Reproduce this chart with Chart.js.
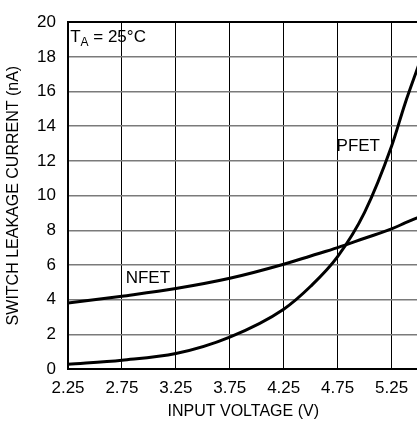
<!DOCTYPE html>
<html>
<head>
<meta charset="utf-8">
<script src="https://cdn.jsdelivr.net/npm/chart.js@4.4.1/dist/chart.umd.min.js"></script>
<style>
  html, body { margin: 0; padding: 0; background: #fff; overflow: hidden; }
  #wrap { width: 420px; height: 426px; position: relative; }
</style>
</head>
<body>
<div id="wrap"><canvas id="chart-leak"></canvas></div>
<script>
// ── data ──
const VOLTS     = [2.25, 2.75, 3.25, 3.75, 4.25, 4.5, 4.75, 5.0, 5.25, 5.375, 5.5];
const NFET_NA   = [3.8, 4.2, 4.64, 5.23, 6.04, 6.52, 7.0, 7.54, 8.08, 8.42, 8.75];
const PFET_NA   = [0.27, 0.51, 0.89, 1.84, 3.45, 4.77, 6.48, 9.03, 12.84, 15.3, 17.5];
const X_TICKS   = [2.25, 2.75, 3.25, 3.75, 4.25, 4.75, 5.25];
const Y_TICKS   = [0, 2, 4, 6, 8, 10, 12, 14, 16, 18, 20];

const FONT = '"Liberation Sans Narrow", "Liberation Sans", Arial, sans-serif';

const toPts = ys => VOLTS.map((v, i) => ({ x: v, y: ys[i] }));

// curve labels + T_A note
const notes = {
  id: 'notes',
  afterDatasetsDraw(chart) {
    const { ctx } = chart;
    const xs = chart.scales.x, ys = chart.scales.y;
    ctx.save();
    ctx.fillStyle = '#000';
    ctx.textBaseline = 'alphabetic';
    ctx.font = `17px ${FONT}`;
    ctx.fillText('NFET', xs.getPixelForValue(2.785), ys.getPixelForValue(4.95));
    ctx.fillText('PFET', xs.getPixelForValue(4.74), ys.getPixelForValue(12.6));
    // T_A = 25°C
    let x = xs.getPixelForValue(2.27), y = ys.getPixelForValue(18.85);
    ctx.fillText('T', x, y);
    x += ctx.measureText('T').width;
    ctx.font = `12px ${FONT}`;
    ctx.fillText('A', x, y + 4);
    x += ctx.measureText('A').width;
    ctx.font = `17px ${FONT}`;
    ctx.fillText(' = 25°C', x, y);
    ctx.restore();
  }
};

new Chart(document.getElementById('chart-leak'), {
  type: 'line',
  data: {
    datasets: [
      { label: 'NFET', data: toPts(NFET_NA) },
      { label: 'PFET', data: toPts(PFET_NA) },
    ].map(d => ({
      ...d,
      borderColor: '#000',
      borderWidth: 3,
      pointRadius: 0,
      cubicInterpolationMode: 'monotone',
      fill: false,
    }))
  },
  options: {
    responsive: true, maintainAspectRatio: false,
    animation: false,
    layout: { padding: { top: 17, right: 1.5, left: 4, bottom: 0 } },
    plugins: { legend: { display: false }, tooltip: { enabled: false } },
    scales: {
      x: {
        type: 'linear', min: 2.25, max: 5.5,
        afterBuildTicks: ax => { ax.ticks = X_TICKS.map(v => ({ value: v })); },
        afterFit: ax => { ax.height = 57; },
        grid: { color: '#000', lineWidth: 1, drawTicks: false },
        border: { color: '#000', width: 2 },
        ticks: {
          padding: 9, color: '#000',
          font: { family: FONT, size: 17 },
          callback: v => v.toFixed(2),
        },
        title: {
          display: true, text: 'INPUT VOLTAGE (V)', color: '#000',
          font: { family: FONT, size: 16 },
          padding: { top: 0, bottom: 5 },
        }
      },
      y: {
        min: 0, max: 20,
        afterBuildTicks: ax => { ax.ticks = Y_TICKS.map(v => ({ value: v })); },
        afterFit: ax => { ax.width = 64; },
        grid: {
          color: c => c.tick && c.tick.value === 20 ? '#000' : '#7a7a7a',
          lineWidth: c => c.tick && c.tick.value === 20 ? 2 : 1.5,
          drawTicks: false,
        },
        border: { color: '#000', width: 2 },
        ticks: {
          padding: 12, color: '#000',
          font: { family: FONT, size: 17 },
        },
        title: {
          display: true, text: 'SWITCH LEAKAGE CURRENT (nA)', color: '#000',
          font: { family: FONT, size: 16 },
          padding: { top: 0, bottom: 0 },
        }
      }
    }
  },
  plugins: [notes]
});
</script>
</body>
</html>
